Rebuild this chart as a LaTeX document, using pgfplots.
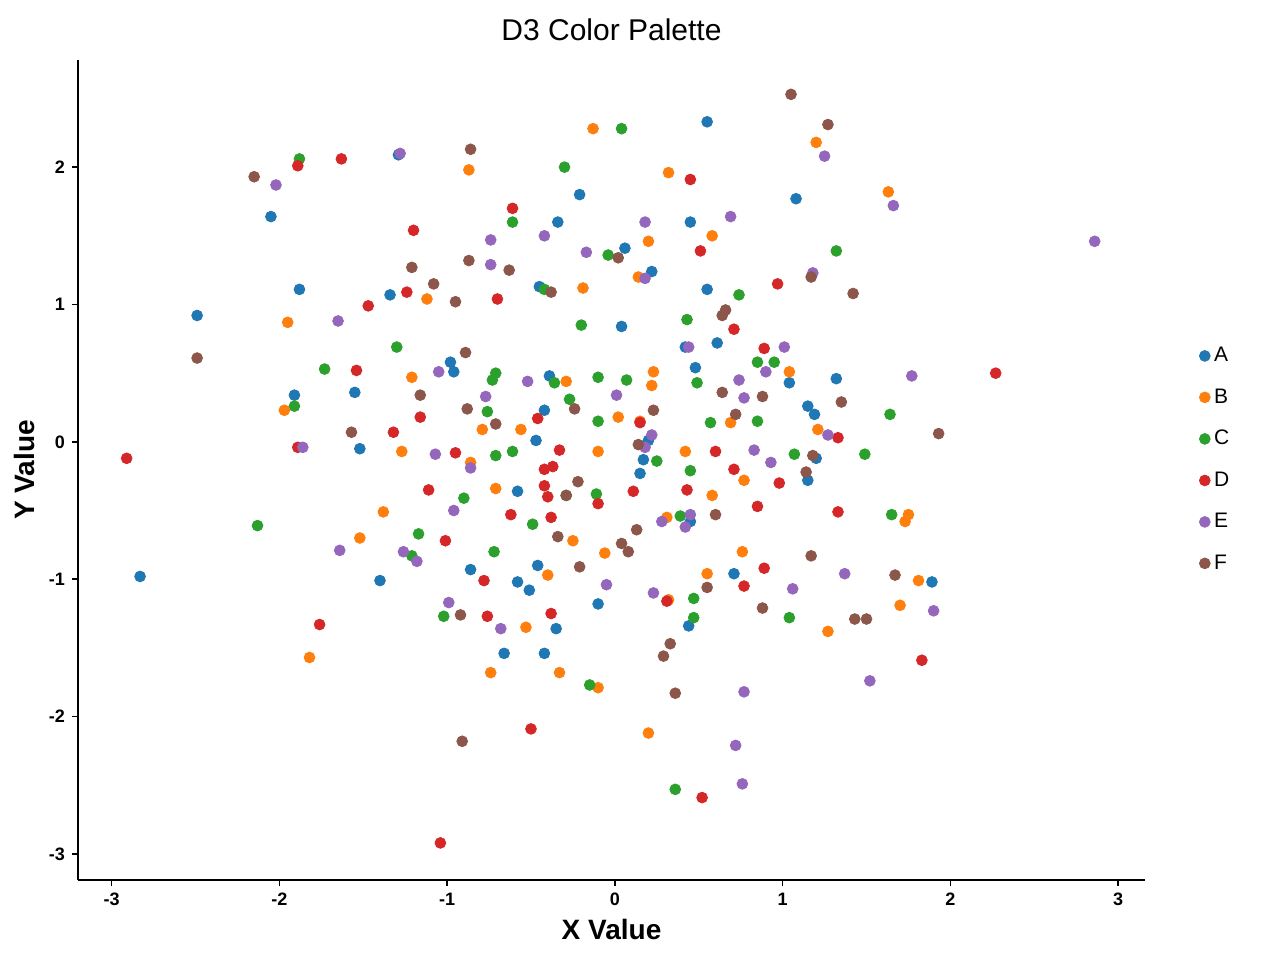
\documentclass[border=0pt]{standalone}
\usepackage{pgfplots}
\pgfplotsset{compat=1.18}
\usepackage{fontspec}
\setmainfont{Liberation Sans}
\definecolor{cA}{HTML}{1F77B4}
\definecolor{cB}{HTML}{FF7F0E}
\definecolor{cC}{HTML}{2CA02C}
\definecolor{cD}{HTML}{D62728}
\definecolor{cE}{HTML}{9467BD}
\definecolor{cF}{HTML}{8C564B}
\begin{document}
\begin{tikzpicture}
\begin{axis}[name=ax, at={(0,0)}, anchor=south west, scale only axis,
 width=533.5pt, height=410pt,
 xmin=-3.2, xmax=3.16, ymin=-3.19, ymax=2.78,
 axis lines=left, axis line style={-, line width=1pt},
 xtick={-3,-2,-1,0,1,2,3}, ytick={-3,-2,-1,0,1,2},
 tick align=outside, major tick length=3pt, tick style={black, line width=0.8pt},
 /pgf/number format/assume math mode=true,
 ticklabel style={font=\fontsize{9}{10}\selectfont\bfseries},
 xlabel={X Value}, ylabel={Y Value},
 label style={font=\fontsize{14}{16}\selectfont\bfseries},
 title={D3 Color Palette}, title style={font=\fontsize{15}{17}\selectfont, yshift=0pt},
 legend style={at={(1.045,0.66)}, anchor=north west, draw=none, fill=none,
   font=\fontsize{10.5}{12}\selectfont, row sep=8pt, cells={anchor=west}},
 legend cell align=left,
 every axis plot/.append style={only marks, mark=*, mark size=2.7pt},
]
\addplot[cA, mark options={draw=cA, fill=cA}] coordinates {
(-2.83,-0.98)(-2.49,0.92)(-2.05,1.64)(-1.91,0.34)(-1.88,1.11)(-1.55,0.36)(-1.52,-0.05)(-1.40,-1.01)(-1.34,1.07)(-1.29,2.09)(-0.98,0.58)(-0.96,0.51)(-0.86,-0.93)
(-0.58,-0.36)(-0.47,0.01)(-0.46,-0.90)(-0.58,-1.02)(-0.51,-1.08)(-0.66,-1.54)(-0.42,-1.54)(-0.35,-1.36)(-0.45,1.13)(-0.39,0.48)(-0.42,0.23)(-0.34,1.60)(-0.21,1.80)(-0.10,-1.18)(0.04,0.84)(0.06,1.41)(0.15,-0.23)(0.17,-0.13)(0.20,0.01)(0.22,1.24)(0.42,0.69)(0.45,1.60)(0.48,0.54)(0.55,2.33)(0.55,1.11)(0.61,0.72)(0.71,-0.96)(0.44,-1.34)(0.45,-0.58)(1.04,0.43)(1.08,1.77)(1.15,0.26)(1.15,-0.28)(1.19,0.20)(1.20,-0.12)(1.32,0.46)(1.89,-1.02)};
\addlegendentry{A}
\addplot[cB, mark options={draw=cB, fill=cB}] coordinates {
(-0.13,2.28)(0.32,1.96)(1.20,2.18)(1.63,1.82)(-0.87,1.98)(-1.95,0.87)(-1.97,0.23)(-1.82,-1.57)(-1.52,-0.70)(-1.38,-0.51)(-1.27,-0.07)(-1.21,0.47)(-1.12,1.04)(-0.86,-0.15)(-0.79,0.09)(-0.71,-0.34)(-0.74,-1.68)(-0.56,0.09)(-0.53,-1.35)(-0.40,-0.97)(-0.33,-1.68)(-0.29,0.44)(-0.25,-0.72)(-0.19,1.12)(-0.10,-0.07)(-0.10,-1.79)(-0.06,-0.81)(0.02,0.18)(0.14,1.20)(0.20,1.46)(0.20,-2.12)(0.22,0.41)(0.23,0.51)(0.32,-1.15)(0.31,-0.55)(0.42,-0.07)(0.58,1.50)(0.58,-0.39)(0.55,-0.96)(0.69,0.14)(0.76,-0.80)(0.77,-0.28)(1.04,0.51)(1.21,0.09)(1.27,-1.38)(1.73,-0.58)(1.75,-0.53)(1.70,-1.19)(1.81,-1.01)(0.15,0.15)};
\addlegendentry{B}
\addplot[cC, mark options={draw=cC, fill=cC}] coordinates {
(0.04,2.28)(-0.30,2.00)(-1.88,2.06)(-2.13,-0.61)(-1.91,0.26)(-1.73,0.53)(-1.30,0.69)(-1.21,-0.83)(-1.17,-0.67)(-1.02,-1.27)(-0.90,-0.41)(-0.76,0.22)(-0.73,0.45)(-0.71,0.50)(-0.71,-0.10)(-0.72,-0.80)(-0.61,-0.07)(-0.61,1.60)(-0.49,-0.60)(-0.42,1.11)(-0.36,0.43)(-0.27,0.31)(-0.29,-0.39)(-0.20,0.85)(-0.15,-1.77)(-0.11,-0.38)(-0.10,0.15)(-0.10,0.47)(-0.04,1.36)(0.07,0.45)(0.25,-0.14)(0.39,-0.54)(0.43,0.89)(0.45,-0.21)(0.47,-1.14)(0.47,-1.28)(0.49,0.43)(0.36,-2.53)(0.57,0.14)(0.74,1.07)(0.85,0.58)(0.85,0.15)(0.95,0.58)(1.07,-0.09)(1.04,-1.28)(1.32,1.39)(1.49,-0.09)(1.64,0.20)(1.65,-0.53)};
\addlegendentry{C}
\addplot[cD, mark options={draw=cD, fill=cD}] coordinates {
(-2.91,-0.12)(-1.89,2.01)(-1.89,-0.04)(-1.63,2.06)(-1.76,-1.33)(-1.54,0.52)(-1.47,0.99)(-1.32,0.07)(-1.24,1.09)(-1.20,1.54)(-1.16,0.18)(-1.11,-0.35)(-1.01,-0.72)(-1.04,-2.92)(-0.95,-0.08)(-0.78,-1.01)(-0.76,-1.27)(-0.70,1.04)(-0.61,1.70)(-0.62,-0.53)(-0.50,-2.09)(-0.46,0.17)(-0.42,-0.20)(-0.42,-0.32)(-0.40,-0.40)(-0.37,-0.18)(-0.38,-0.55)(-0.38,-1.25)(-0.33,-0.06)(-0.10,-0.45)(0.11,-0.36)(0.15,0.14)(0.31,-1.16)(0.45,1.91)(0.43,-0.35)(0.51,1.39)(0.52,-2.59)(0.60,-0.07)(0.71,0.82)(0.71,-0.20)(0.77,-1.05)(0.85,-0.47)(0.89,0.68)(0.89,-0.92)(0.97,1.15)(0.98,-0.30)(1.33,0.03)(1.33,-0.51)(1.83,-1.59)(2.27,0.50)};
\addlegendentry{D}
\addplot[cE, mark options={draw=cE, fill=cE}] coordinates {
(-2.02,1.87)(-1.86,-0.04)(-1.65,0.88)(-1.64,-0.79)(-1.28,2.10)(-1.26,-0.80)(-1.18,-0.87)(-1.07,-0.09)(-1.05,0.51)(-0.99,-1.17)(-0.96,-0.50)(-0.86,-0.19)(-0.77,0.33)(-0.74,1.47)(-0.74,1.29)(-0.68,-1.36)(-0.52,0.44)(-0.42,1.50)(-0.17,1.38)(-0.05,-1.04)(0.01,0.34)(0.18,1.60)(0.18,1.19)(0.18,-0.04)(0.22,0.05)(0.23,-1.10)(0.28,-0.58)(0.42,-0.62)(0.44,0.69)(0.45,-0.53)(0.69,1.64)(0.72,-2.21)(0.74,0.45)(0.76,-2.49)(0.77,-1.82)(0.77,0.32)(0.90,0.51)(0.83,-0.06)(0.93,-0.15)(1.01,0.69)(1.06,-1.07)(1.18,1.23)(1.25,2.08)(1.27,0.05)(1.37,-0.96)(1.52,-1.74)(1.66,1.72)(1.77,0.48)(1.90,-1.23)(2.86,1.46)};
\addlegendentry{E}
\addplot[cF, mark options={draw=cF, fill=cF}] coordinates {
(-2.49,0.61)(-2.15,1.93)(-1.57,0.07)(-1.21,1.27)(-1.16,0.34)(-1.08,1.15)(-0.95,1.02)(-0.92,-1.26)(-0.91,-2.18)(-0.89,0.65)(-0.88,0.24)(-0.87,1.32)(-0.86,2.13)(-0.71,0.13)(-0.63,1.25)(-0.38,1.09)(-0.34,-0.69)(-0.29,-0.39)(-0.24,0.24)(-0.22,-0.29)(-0.21,-0.91)(0.02,1.34)(0.04,-0.74)(0.08,-0.80)(0.13,-0.64)(0.14,-0.02)(0.23,0.23)(0.29,-1.56)(0.33,-1.47)(0.36,-1.83)(0.55,-1.06)(0.60,-0.53)(0.64,0.36)(0.64,0.92)(0.66,0.96)(0.72,0.20)(0.88,0.33)(0.88,-1.21)(1.05,2.53)(1.17,-0.83)(1.17,1.20)(1.14,-0.22)(1.18,-0.10)(1.27,2.31)(1.35,0.29)(1.42,1.08)(1.43,-1.29)(1.50,-1.29)(1.67,-0.97)(1.93,0.06)};
\addlegendentry{F}
\node[anchor=west, font=\fontsize{13}{15}\selectfont] at (rel axis cs:1.04,0.685) {group};
\end{axis}
\pgfresetboundingbox
\useasboundingbox (-39pt,-40pt) rectangle (601pt,440pt);
\end{tikzpicture}
\end{document}
